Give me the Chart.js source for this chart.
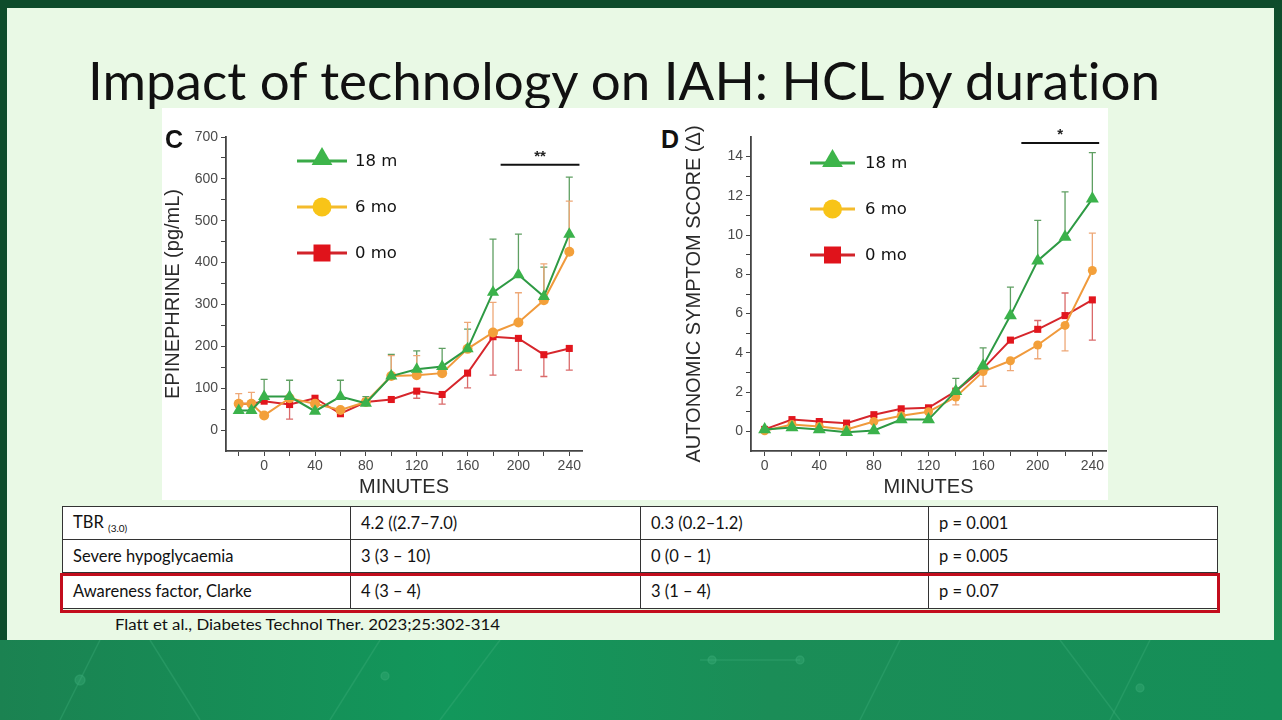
<!DOCTYPE html>
<html>
<head>
<meta charset="utf-8">
<script src="https://cdn.jsdelivr.net/npm/chart.js@4.4.0/dist/chart.umd.min.js"></script>
<style>
  body { margin: 0; width: 1282px; height: 720px; overflow: hidden; position: relative; background: #e9f9e5; font-family: Lato, sans-serif; font-variant-ligatures: none; }
  .abs { position: absolute; }
  #frameTop { left: 0; top: 0; width: 1282px; height: 8px; background: #0e4c2b; }
  #frameLeft { left: 0; top: 0; width: 7px; height: 640px; background: #0e4c2b; }
  #frameRight { left: 1274px; top: 0; width: 8px; height: 640px; background: linear-gradient(#0e4c2b, #1a8a50); }
  #bottom { left: 0; top: 640px; width: 1282px; height: 80px; background: linear-gradient(90deg, #1b8251 0%, #12975b 35%, #1b8d57 60%, #158f58 100%); }
  #title { left: 88px; top: 54px; font-size: 52px; line-height: 52px; color: #111; white-space: nowrap; transform-origin: 0 0; }
  #white { left: 162px; top: 108px; width: 946px; height: 392px; background: #fff; }
  .panel { font: bold 25px "Liberation Sans", Arial, sans-serif; color: #111; }
  table { position: absolute; left: 62px; top: 506px; width: 1156px; border-collapse: collapse; background: #fff; font-size: 16.5px; color: #111; }
  td { border: 1px solid #333; height: 33px; padding: 0 0 0 10px; box-sizing: border-box; }
  sub { font-size: 10px; }
  #redbox { left: 60px; top: 573px; width: 1154px; height: 34px; border: 3px solid #c20d1d; }
  #cite { left: 115px; top: 616px; font-size: 14.5px; color: #111; white-space: nowrap; transform-origin: 0 0; }
</style>
</head>
<body>
<div id="frameTop" class="abs"></div>
<div id="frameLeft" class="abs"></div>
<div id="frameRight" class="abs"></div>
<div id="bottom" class="abs">
  <svg width="1282" height="80">
    <g stroke="#3fb07a" stroke-opacity="0.35" stroke-width="1.5" fill="#3fb07a" fill-opacity="0.35">
      <line x1="100" y1="0" x2="60" y2="80"/><line x1="150" y1="0" x2="200" y2="80"/>
      <line x1="380" y1="0" x2="330" y2="80"/><line x1="500" y1="0" x2="440" y2="80"/>
      <line x1="700" y1="20" x2="800" y2="20"/><circle cx="712" cy="20" r="4"/><circle cx="800" cy="20" r="4"/>
      <line x1="900" y1="0" x2="860" y2="80"/><line x1="1060" y1="0" x2="1120" y2="80"/>
      <line x1="1150" y1="0" x2="1110" y2="80"/><circle cx="1140" cy="48" r="4"/>
      <circle cx="80" cy="40" r="5"/><circle cx="385" cy="36" r="4"/>
    </g>
  </svg>
</div>
<div id="title" class="abs">Impact of technology on IAH: HCL by duration</div>
<div id="white" class="abs"></div>
<canvas id="chartC" class="abs" style="left:160px;top:108px" width="440" height="392"></canvas>
<canvas id="chartD" class="abs" style="left:681px;top:108px" width="434" height="392"></canvas>
<div class="abs panel" style="left:165px;top:125px">C</div>
<div class="abs panel" style="left:661px;top:125px">D</div>
<table>
  <tr><td style="width:288px">TBR <sub>(3.0)</sub></td><td style="width:290px">4.2 ((2.7–7.0)</td><td style="width:288px">0.3 (0.2–1.2)</td><td>p = 0.001</td></tr>
  <tr><td>Severe hypoglycaemia</td><td>3 (3 – 10)</td><td>0 (0 – 1)</td><td>p = 0.005</td></tr>
  <tr><td style="height:36px">Awareness factor, Clarke</td><td>4 (3 – 4)</td><td>3 (1 – 4)</td><td>p = 0.07</td></tr>
</table>
<div id="redbox" class="abs"></div>
<div id="cite" class="abs">Flatt et al., Diabetes Technol Ther. 2023;25:302-314</div>

<script>
// ---- panel C: epinephrine ----
const minutesC = [-20, -10, 0, 20, 40, 60, 80, 100, 120, 140, 160, 180, 200, 220, 240];
const epi18 = [47, 47, 80, 80, 45, 80, 64, 129, 145, 152, 194, 329, 371, 319, 468];
const epi18Hi = [null, null, 121, 119, null, 119, 80, 181, 189, 195, 241, 456, 468, 389, 604];
const epi6 = [63, 63, 35, 76, 63, 48, 67, 129, 131, 136, 194, 233, 257, 310, 426];
const epi6Hi = [87, 90, null, null, null, null, null, 178, 178, null, 257, 305, 328, 397, 547];
const epi0 = [63, 63, 69, 61, 76, 39, 67, 73, 93, 85, 136, 223, 219, 180, 195];
const epi0Lo = [null, null, null, 26, null, null, null, null, 76, 62, 101, 131, 143, 128, 143];
const xTicksC = [-20, 0, 20, 40, 60, 80, 100, 120, 140, 160, 180, 200, 220, 240];
const yTicksC = [0, 50, 100, 150, 200, 250, 300, 350, 400, 450, 500, 550, 600, 650, 700];
const yLabelsC = [0, 100, 200, 300, 400, 500, 600, 700];

// ---- panel D: autonomic symptom score ----
const minutesD = [0, 20, 40, 60, 80, 100, 120, 140, 160, 180, 200, 220, 240];
const ass18 = [0.1, 0.2, 0.1, -0.05, 0.05, 0.6, 0.6, 2.05, 3.35, 5.9, 8.7, 9.9, 11.85];
const ass18Hi = [null, null, null, null, null, null, null, 2.7, 4.25, 7.35, 10.75, 12.2, 14.2];
const ass6 = [0.03, 0.35, 0.25, 0.1, 0.5, 0.8, 1.0, 1.75, 3.05, 3.6, 4.4, 5.4, 8.2];
const ass6Hi = [null, null, null, null, null, null, null, null, null, null, null, null, 10.1];
const ass6Lo = [null, null, null, null, null, null, null, 1.35, 2.3, 3.1, 3.7, 4.1, null];
const ass0 = [0.1, 0.6, 0.5, 0.42, 0.85, 1.15, 1.2, 2.05, 3.2, 4.65, 5.2, 5.9, 6.7];
const ass0Hi = [null, null, null, null, null, null, null, null, null, null, 5.65, 7.05, null];
const ass0Lo = [null, null, null, null, null, null, null, null, null, null, null, null, 4.65];
const xTicksD = [0, 20, 40, 60, 80, 100, 120, 140, 160, 180, 200, 220, 240];
const yTicksD = [0, 1, 2, 3, 4, 5, 6, 7, 8, 9, 10, 11, 12, 13, 14];
const yLabelsD = [0, 2, 4, 6, 8, 10, 12, 14];
const xLabels = [0, 40, 80, 120, 160, 200, 240];

const seriesNames = ['18 m', '6 mo', '0 mo'];

const GREEN = { line: '#2e9a44', fill: '#3bb24b', err: '#5f9f62', legLine: '#3aaa48', legFill: '#3db54a' };
const ORANGE = { line: '#f09a3c', fill: '#f3a03a', err: '#eea877', legLine: '#f4bb2c', legFill: '#f8c418' };
const RED = { line: '#d6262c', fill: '#e2161d', err: '#da6a6a', legLine: '#d2232a', legFill: '#e0131b' };

function drawMarker(ctx, style, x, y, r, fill) {
  ctx.fillStyle = fill;
  ctx.beginPath();
  if (style === 'triangle') {
    ctx.moveTo(x, y - r);
    ctx.lineTo(x + r * 0.866, y + r * 0.5);
    ctx.lineTo(x - r * 0.866, y + r * 0.5);
    ctx.closePath();
  } else if (style === 'circle') {
    ctx.arc(x, y, r, 0, Math.PI * 2);
  } else {
    ctx.rect(x - r, y - r, 2 * r, 2 * r);
  }
  ctx.fill();
}

// error bars, in-plot legend and significance bar
const extrasPlugin = {
  id: 'extras',
  beforeDatasetsDraw(chart) {
    const ctx = chart.ctx;
    const ys = chart.scales.y;
    chart.data.datasets.forEach((ds, di) => {
      const meta = chart.getDatasetMeta(di);
      ctx.save();
      ctx.strokeStyle = ds.errColor;
      ctx.lineWidth = 1.3;
      meta.data.forEach((pt, i) => {
        [ds.errHi && ds.errHi[i], ds.errLo && ds.errLo[i]].forEach(v => {
          if (v == null) return;
          const yy = ys.getPixelForValue(v);
          ctx.beginPath();
          ctx.moveTo(pt.x, pt.y);
          ctx.lineTo(pt.x, yy);
          ctx.moveTo(pt.x - 3.5, yy);
          ctx.lineTo(pt.x + 3.5, yy);
          ctx.stroke();
        });
      });
      ctx.restore();
    });
  },
  afterDraw(chart, args, opts) {
    const ctx = chart.ctx;
    const area = chart.chartArea;
    ctx.save();
    // legend
    const lg = opts.legend;
    chart.data.datasets.forEach((ds, i) => {
      const y = area.top + lg.y + i * lg.gap;
      const x0 = area.left + lg.x;
      ctx.strokeStyle = ds.legLine;
      ctx.lineWidth = 3;
      ctx.beginPath();
      ctx.moveTo(x0, y);
      ctx.lineTo(x0 + lg.len, y);
      ctx.stroke();
      const r = ds.pointStyle === 'triangle' ? 12 : ds.pointStyle === 'circle' ? 9.5 : 8.5;
      drawMarker(ctx, ds.pointStyle, x0 + lg.len / 2, ds.pointStyle === 'triangle' ? y - 2 : y, r, ds.legFill);
      ctx.fillStyle = '#111';
      ctx.font = '16.5px "DejaVu Sans", sans-serif';
      ctx.textBaseline = 'middle';
      ctx.fillText(ds.label, x0 + lg.len + lg.textGap, y + 1);
    });
    // significance bar
    const sg = opts.sig;
    const xs = chart.scales.x, ys = chart.scales.y;
    const yy = ys.getPixelForValue(sg.y);
    ctx.strokeStyle = '#111';
    ctx.lineWidth = 2;
    ctx.beginPath();
    ctx.moveTo(xs.getPixelForValue(sg.from), yy);
    ctx.lineTo(xs.getPixelForValue(sg.to), yy);
    ctx.stroke();
    ctx.fillStyle = '#222';
    ctx.font = 'bold 15px "Liberation Sans", Arial, sans-serif';
    ctx.textAlign = 'center';
    ctx.textBaseline = 'alphabetic';
    ctx.fillText(sg.text, xs.getPixelForValue((sg.from + sg.to) / 2), yy - 4);
    ctx.restore();
  }
};

function makeDataset(name, xs, ys, col, style, radius, hi, lo) {
  return {
    label: name,
    data: xs.map((x, i) => ({ x: x, y: ys[i] })),
    borderColor: col.line,
    backgroundColor: col.fill,
    pointBackgroundColor: col.fill,
    pointBorderWidth: 0,
    borderWidth: 2,
    pointStyle: style,
    pointRadius: radius,
    errHi: hi,
    errLo: lo,
    errColor: col.err,
    legLine: col.legLine,
    legFill: col.legFill
  };
}

const tickFont = { family: '"Liberation Sans", Arial, sans-serif', size: 14 };
const titleFont = { family: '"Liberation Sans", Arial, sans-serif', size: 20 };

function makeChart(id, cfg) {
  return new Chart(document.getElementById(id), {
    type: 'line',
    data: { datasets: cfg.datasets },
    options: {
      responsive: false,
      animation: false,
      layout: { padding: { top: 29, right: cfg.padRight, left: 0, bottom: 0 } },
      plugins: {
        legend: { display: false },
        tooltip: { enabled: false },
        extras: { legend: cfg.legend, sig: cfg.sig }
      },
      scales: {
        x: {
          type: 'linear',
          min: cfg.xMin, max: 250,
          afterBuildTicks: s => { s.ticks = cfg.xTicks.map(v => ({ value: v })); },
          afterFit: s => { s.height = 49; },
          ticks: { color: '#4a4a4a', font: tickFont, padding: 2, maxRotation: 0,
                   callback: v => xLabels.includes(v) ? String(v) : '' },
          grid: { drawOnChartArea: false, tickLength: 5, color: '#444' },
          border: { color: '#444', width: 1.8 },
          title: { display: true, text: 'MINUTES', color: '#2a2a2a', font: titleFont, padding: { top: 0, bottom: 1 } }
        },
        y: {
          min: cfg.yMin, max: cfg.yMax,
          afterBuildTicks: s => { s.ticks = cfg.yTicks.map(v => ({ value: v })); },
          afterFit: s => { s.width = cfg.yWidth; },
          ticks: { color: '#4a4a4a', font: tickFont, padding: 3,
                   callback: v => cfg.yLabels.includes(v) ? String(v) : '' },
          grid: { drawOnChartArea: false, tickLength: 5, color: '#444' },
          border: { color: '#444', width: 1.8 },
          title: { display: true, text: cfg.yTitle, color: '#2a2a2a', font: titleFont, padding: { top: 1, bottom: 0 } }
        }
      }
    },
    plugins: [extrasPlugin]
  });
}

makeChart('chartC', {
  datasets: [
    makeDataset(seriesNames[0], minutesC, epi18, GREEN, 'triangle', 7, epi18Hi, null),
    makeDataset(seriesNames[1], minutesC, epi6, ORANGE, 'circle', 5, epi6Hi, null),
    makeDataset(seriesNames[2], minutesC, epi0, RED, 'rect', 5, null, epi0Lo)
  ],
  xMin: -30, xTicks: xTicksC,
  yMin: -50, yMax: 700, yTicks: yTicksC, yLabels: yLabelsC, yWidth: 66,
  yTitle: 'EPINEPHRINE (pg/mL)',
  padRight: 18,
  legend: { x: 71, y: 24, gap: 46, len: 50, textGap: 8 },
  sig: { from: 186, to: 248, y: 634, text: '**' }
});

makeChart('chartD', {
  datasets: [
    makeDataset(seriesNames[0], minutesD, ass18, GREEN, 'triangle', 7.5, ass18Hi, null),
    makeDataset(seriesNames[1], minutesD, ass6, ORANGE, 'circle', 4.5, ass6Hi, ass6Lo),
    makeDataset(seriesNames[2], minutesD, ass0, RED, 'rect', 5, ass0Hi, ass0Lo)
  ],
  xMin: -10, xTicks: xTicksD,
  yMin: -1, yMax: 15, yTicks: yTicksD, yLabels: yLabelsD, yWidth: 70,
  yTitle: 'AUTONOMIC SYMPTOM SCORE (\u0394)',
  padRight: 9,
  legend: { x: 59, y: 26, gap: 46, len: 45, textGap: 10 },
  sig: { from: 188, to: 245, y: 14.7, text: '*' }
});

// squeeze slide texts to the reference widths
function fitWidth(id, target) {
  const el = document.getElementById(id);
  const w = el.getBoundingClientRect().width;
  el.style.transform = 'scaleX(' + (target / w) + ')';
}
fitWidth('title', 1072);
fitWidth('cite', 385);
</script>
</body>
</html>
